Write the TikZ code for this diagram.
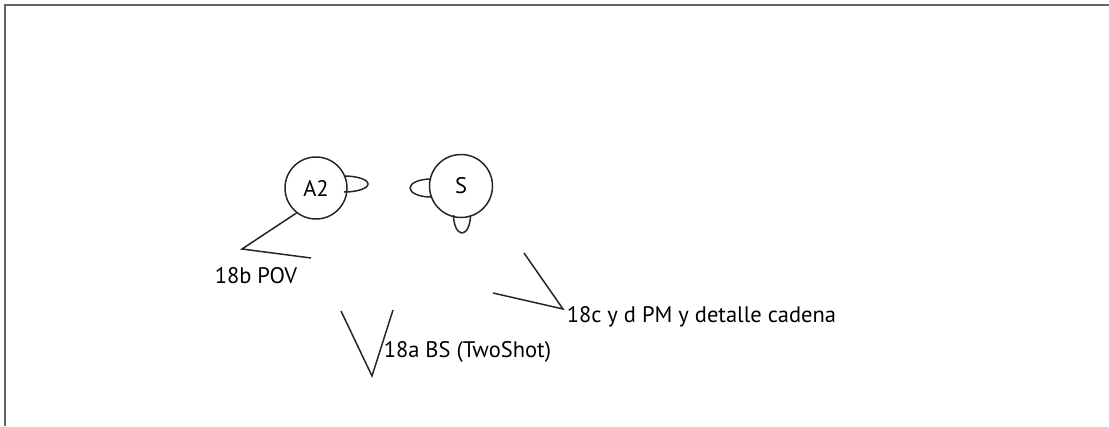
\documentclass[tikz,border=0pt]{standalone}
\usepackage{fontspec}
\setmainfont{PT Sans}
\begin{document}
\begin{tikzpicture}[x=1pt,y=-1pt,
  line width=1.5pt, draw=black!85,
  person/.style={circle, draw, minimum size=62pt, inner sep=0pt, font=\fontsize{22.5}{26}\selectfont},
  lbl/.style={inner sep=0pt, font=\fontsize{22.5}{26}\selectfont},
  frameline/.style={draw=black!60, line width=1.8pt}]
\useasboundingbox (0,0) rectangle (1109,426);
\draw[frameline] (5,426) -- (5,5) -- (1109,5);
% persons
\node[person] (A2) at (316,188) {A2};
\node[person, minimum size=63pt] (S) at (461,186) {S};
% ears / nose
\draw (344,176) arc[start angle=-90, end angle=90, x radius=24, y radius=8];
\draw (431,179) arc[start angle=-90, end angle=-270, x radius=21, y radius=9];
\draw (453.5,215) arc[start angle=180, end angle=0, x radius=8.5, y radius=18];
% camera 18b
\coordinate (b1) at (A2.232);
\coordinate (bv) at (242,249);
\coordinate (b2) at (311,258);
\draw (b1) -- (bv) -- (b2);
\node[lbl, anchor=base] (lb) at (256,283) {18b POV};
% camera 18a
\coordinate (a1) at (341,311);
\coordinate (av) at (372,376);
\coordinate (a2) at (393,310);
\draw (a1) -- (av) -- (a2);
\node[lbl, anchor=base west] (la) at (383,357) {18a BS (TwoShot)};
% camera 18c
\coordinate (c1) at (524,253);
\coordinate (cv) at (563,309);
\coordinate (c2) at (493,293);
\draw (c1) -- (cv) -- (c2);
\node[lbl, anchor=base west] (lc) at (566,322) {18c y d PM y detalle cadena};
\end{tikzpicture}
\end{document}
